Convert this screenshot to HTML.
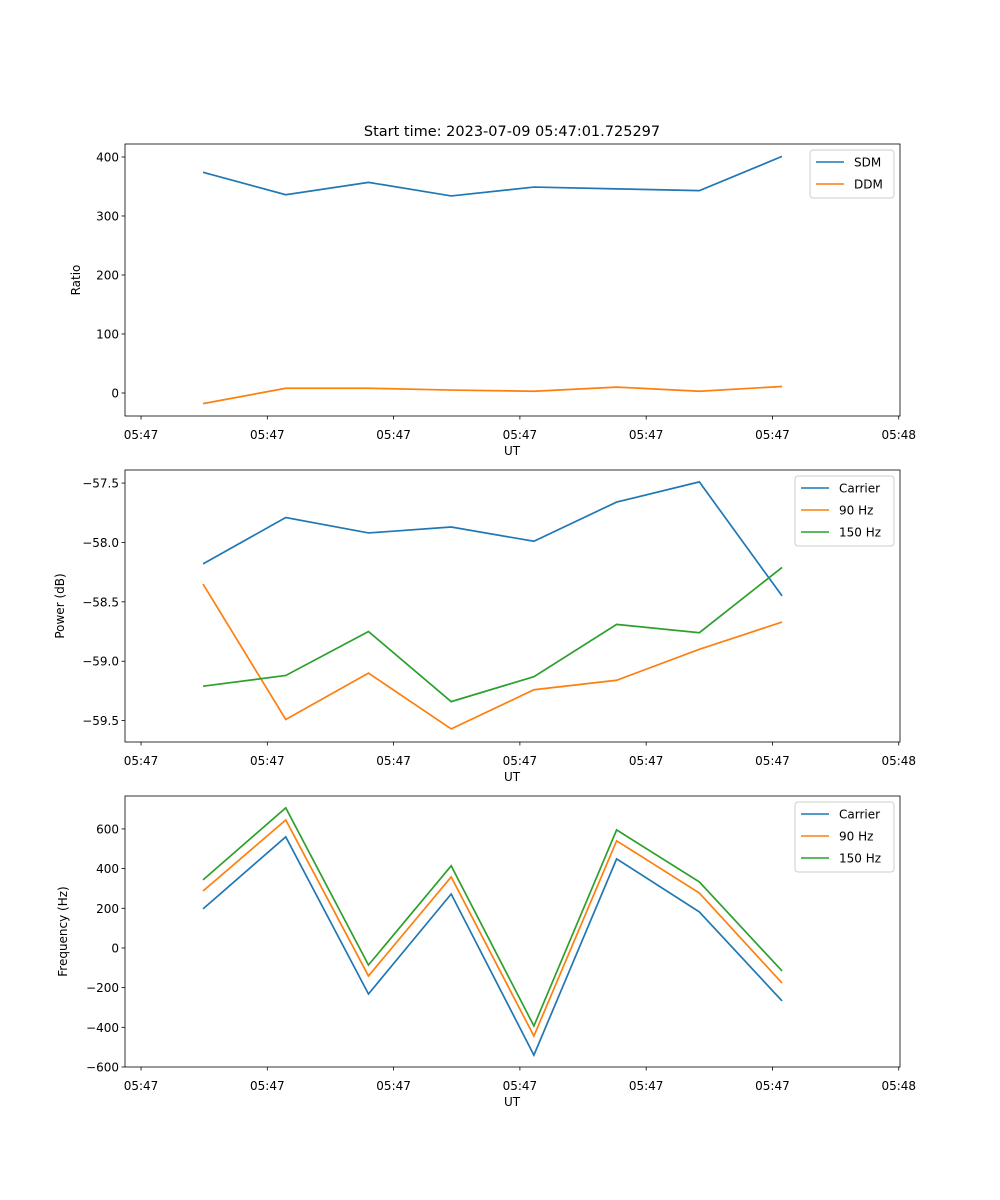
<!DOCTYPE html>
<html><head><meta charset="utf-8">
<style>
html,body{margin:0;padding:0;background:#fff;}
svg{display:block;font-family:"DejaVu Sans","Liberation Sans",sans-serif;}
</style></head>
<body>
<svg id="fig" width="1000" height="1200" viewBox="0 0 1000 1200" xmlns="http://www.w3.org/2000/svg">
<rect width="1000" height="1200" fill="#fff"/>
<text x="512" y="136" font-size="14.5" text-anchor="middle">Start time: 2023-07-09 05:47:01.725297</text>
</svg>
<script>
const times = [4.91, 11.46, 18.01, 24.56, 31.11, 37.66, 44.21, 50.76];
const xTicks = [0, 10, 20, 30, 40, 50, 60];
const xTickLabels = ["05:47","05:47","05:47","05:47","05:47","05:47","05:48"];
const sdm = [374, 336, 357, 334, 349, 346, 343, 401];
const ddm = [-18, 8, 8, 5, 3, 10, 3, 11];
const pwrCarrier = [-58.18,-57.79,-57.92,-57.87,-57.99,-57.66,-57.49,-58.45];
const pwr90 = [-58.35,-59.49,-59.10,-59.57,-59.24,-59.16,-58.90,-58.67];
const pwr150 = [-59.21,-59.12,-58.75,-59.34,-59.13,-58.69,-58.76,-58.21];
const frqCarrier = [197,560,-232,272,-540,449,182,-267];
const frq90 = [287,645,-141,358,-444,540,277,-177];
const frq150 = [343,706,-86,414,-393,595,333,-116];
const yTicks1 = [0,100,200,300,400];
const yTicks2 = [-59.5,-59.0,-58.5,-58.0,-57.5];
const yTicks3 = [-600,-400,-200,0,200,400,600];

const NS="http://www.w3.org/2000/svg";
const svg=document.getElementById('fig');
function mk(tag,attrs,parent){const e=document.createElementNS(NS,tag);for(const k in attrs)e.setAttribute(k,attrs[k]);(parent||svg).appendChild(e);return e;}
const L=125,R=900,xmin=-1.27,xmax=60.1;
const sx=v=>L+(v-xmin)/(xmax-xmin)*(R-L);
const colors={blue:'#1f77b4',orange:'#ff7f0e',green:'#2ca02c'};

function panel(id,top,bot,ymin,ymax,yt,fmt,ylabel,series,legend){
  const g=mk('g',{});
  
  
  const sy=v=>bot-(v-ymin)/(ymax-ymin)*(bot-top);
  series.forEach(s=>{
    const p=mk('polyline',{points:s.d.map((v,i)=>sx(times[i])+','+sy(v)).join(' '),fill:'none',stroke:s.c,'stroke-width':1.7},g);
    
    
  });
  const fr=mk('rect',{x:L,y:top,width:R-L,height:bot-top,fill:'none',stroke:'#000','stroke-width':0.8},g);
  
  
  xTicks.forEach((t,i)=>{
    const x=sx(t);
    mk('line',{x1:x,x2:x,y1:bot,y2:bot+3.5,stroke:'#000','stroke-width':0.8},g);
    const tx=mk('text',{x:x,y:bot+23,'font-size':12,'text-anchor':'middle'},g);
    tx.textContent=xTickLabels[i];
    
    
  });
  const xl=mk('text',{x:512,y:bot+39,'font-size':12,'text-anchor':'middle'},g);
  xl.textContent='UT';
  
  
  yt.forEach(t=>{
    const y=sy(t);
    mk('line',{x1:L-3.5,x2:L,y1:y,y2:y,stroke:'#000','stroke-width':0.8},g);
    const tx=mk('text',{x:L-6,y:y+4.5,'font-size':12,'text-anchor':'end'},g);
    tx.textContent=fmt(t);
    
    
  });
  const yl=mk('text',{x:0,y:0,'font-size':12,'text-anchor':'middle',transform:`translate(${legend.yx},${(top+bot)/2}) rotate(-90)`},g);
  yl.textContent=ylabel;
  
  
  const lg=mk('g',{},g);
  
  
  mk('rect',{x:legend.x,y:top+6,width:R-6-legend.x,height:series.length*22+4,rx:3,fill:'#fff','fill-opacity':0.8,stroke:'#ccc','stroke-width':1},lg);
  series.forEach((s,i)=>{
    const yy=top+18+i*22;
    mk('line',{x1:legend.x+6,x2:legend.x+34,y1:yy,y2:yy,stroke:s.c,'stroke-width':1.5},lg);
    const tx=mk('text',{x:legend.x+44,y:yy+4.5,'font-size':12},lg);
    tx.textContent=s.n;
    
    
  });
}
const minus=s=>s.replace('-','\u2212');
panel('ratio-panel',144,416,-39,422,yTicks1,t=>minus(String(t)),'Ratio',
  [{n:'SDM',d:sdm,c:colors.blue},{n:'DDM',d:ddm,c:colors.orange}],{x:810,yx:80});
panel('power-panel',470,742,-59.68,-57.39,yTicks2,t=>minus(t.toFixed(1)),'Power (dB)',
  [{n:'Carrier',d:pwrCarrier,c:colors.blue},{n:'90 Hz',d:pwr90,c:colors.orange},{n:'150 Hz',d:pwr150,c:colors.green}],{x:795,yx:64});
panel('frequency-panel',796,1067,-600,766,yTicks3,t=>minus(String(t)),'Frequency (Hz)',
  [{n:'Carrier',d:frqCarrier,c:colors.blue},{n:'90 Hz',d:frq90,c:colors.orange},{n:'150 Hz',d:frq150,c:colors.green}],{x:795,yx:67});
</script>
</body></html>
